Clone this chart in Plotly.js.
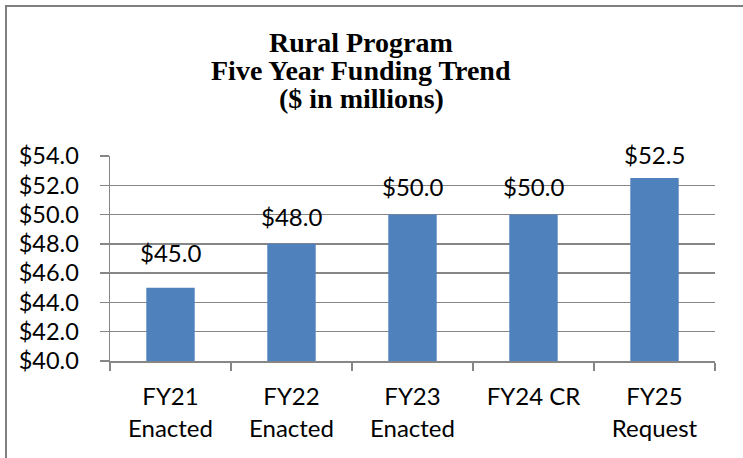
<!DOCTYPE html>
<html>
<head>
<meta charset="utf-8">
<script src="https://cdn.plot.ly/plotly-3.0.1.min.js"></script>
<style>html,body{margin:0;padding:0;background:#fff;}#chart{width:743px;height:458px;}</style>
</head>
<body>
<div id="chart"></div>
<script>
var categories = ["FY21<br>Enacted", "FY22<br>Enacted", "FY23<br>Enacted", "FY24 CR", "FY25<br>Request"];
var values = [45.0, 48.0, 50.0, 50.0, 52.5];
var tickValues = [40, 42, 44, 46, 48, 50, 52, 54];
var tickLabels = tickValues.map(function(v){ return "$" + v.toFixed(1); });
var valueLabels = values.map(function(v){ return "$" + v.toFixed(1); });
var titleLines = ["Rural Program", "Five Year Funding Trend", "($ in millions)"];

var font = "Lato, Carlito, Calibri, 'Liberation Sans', sans-serif";
var serif = "'Liberation Serif', 'Times New Roman', serif";
var gray = "#868686";

var trace = {
  type: "bar",
  x: categories,
  y: values.map(function(v){ return v - 40; }),
  base: 40,
  width: 0.4,
  marker: {color: "#4F81BD"},
  hoverinfo: "none"
};

var labelShift = [35, 27, 28, 28, 23];
var annotations = categories.map(function(c, i){
  return {x: c, y: values[i], xref: "x", yref: "y", text: valueLabels[i],
    showarrow: false, yshift: labelShift[i], font: {family: font, size: 24, color: "#000"}};
});

// title lines, positioned in paper coords (plot area 110..715 x, 156..361 y)
var titleY = [42.5, 70.5, 98.7];
titleLines.forEach(function(t, i){
  annotations.push({
    text: "<b>" + t + "</b>", showarrow: false,
    xref: "paper", yref: "paper",
    x: (361 - 110) / 605, y: (361 - titleY[i]) / 205,
    xanchor: "center", yanchor: "middle",
    font: {family: serif, size: 28, color: "#000"}
  });
});

var layout = {
  width: 743, height: 458,
  margin: {l: 110, r: 28, t: 156, b: 97},
  paper_bgcolor: "#fff", plot_bgcolor: "#fff",
  showlegend: false,
  xaxis: {
    type: "category",
    tickson: "boundaries",
    ticks: "outside", ticklen: 8, tickcolor: gray, tickwidth: 1.5,
    showline: true, linecolor: gray, linewidth: 1.5,
    showgrid: false,
    ticklabelstandoff: 14,
    tickfont: {family: font, size: 24, color: "#000"},
    fixedrange: true
  },
  yaxis: {
    range: [40, 54],
    tickmode: "array", tickvals: tickValues, ticktext: tickLabels,
    ticks: "outside", ticklen: 9, tickcolor: gray, tickwidth: 1.5,
    showline: true, linecolor: gray, linewidth: 1.5,
    showgrid: true, gridcolor: gray, gridwidth: 1.5,
    zeroline: false,
    ticklabelstandoff: 16,
    tickfont: {family: font, size: 23.5, color: "#000"},
    fixedrange: true
  },
  annotations: annotations,
  shapes: [{
    type: "rect", xref: "paper", yref: "paper",
    x0: -0.1719, x1: 1.3, y0: -0.8, y1: 1.7317,
    line: {color: "#7f7f7f", width: 2}, layer: "below"
  }]
};

Plotly.newPlot("chart", [trace], layout, {displayModeBar: false, staticPlot: true});
</script>
</body>
</html>
